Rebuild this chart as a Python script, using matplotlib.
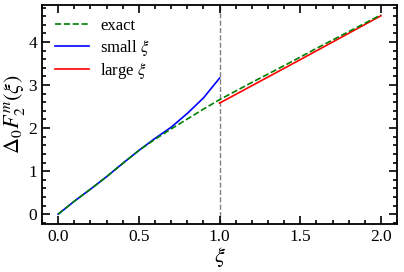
import numpy as np
import matplotlib
matplotlib.use("Agg")
import matplotlib.pyplot as plt
from matplotlib.ticker import MultipleLocator

plt.rcParams["font.family"] = ["Liberation Serif", "DejaVu Serif"]
plt.rcParams["mathtext.fontset"] = "stix"

# exact curve
xi_exact = [0.0, 0.1, 0.2, 0.3, 0.4, 0.5, 0.6, 0.7, 0.8, 0.9, 1.0,
            1.2, 1.4, 1.6, 1.8, 2.0]
F_exact = [0.0, 0.30, 0.58, 0.87, 1.18, 1.48, 1.74, 1.98, 2.21, 2.44, 2.66,
           3.06, 3.45, 3.85, 4.24, 4.63]

# small xi expansion
xi_small = [0.0, 0.1, 0.2, 0.3, 0.4, 0.5, 0.6, 0.7, 0.8, 0.9, 1.0]
F_small = [0.0, 0.30, 0.58, 0.87, 1.18, 1.48, 1.76, 2.02, 2.34, 2.70, 3.16]

# large xi expansion
xi_large = [1.0, 1.5, 2.0]
F_large = [2.58, 3.59, 4.61]

fig = plt.figure(figsize=(4.04, 2.72), dpi=100)
ax = fig.add_axes([0.104, 0.176, 0.879, 0.806])

ax.plot(xi_exact, F_exact, "--", color="green", lw=1.2, label="exact", zorder=3)
ax.plot(xi_small, F_small, "-", color="blue", lw=1.2, label=r"small $\xi$", zorder=2)
ax.plot(xi_large, F_large, "-", color="red", lw=1.2, label=r"large $\xi$", zorder=2)
ax.axvline(1.0, color="grey", ls="--", lw=1.0, zorder=1)

ax.set_xlabel(r"$\xi$", fontsize=16, labelpad=0)
ax.set_ylabel(r"$\Delta_0 F_2^m(\xi)$", fontsize=16, labelpad=1)

ax.xaxis.set_major_locator(MultipleLocator(0.5))
ax.xaxis.set_minor_locator(MultipleLocator(0.1))
ax.yaxis.set_major_locator(MultipleLocator(1))
ax.yaxis.set_minor_locator(MultipleLocator(0.2))
ax.tick_params(which="both", direction="in", top=True, right=True, width=1.2, labelsize=12.5)
ax.tick_params(which="major", length=6)
ax.tick_params(which="minor", length=3)
for s in ax.spines.values():
    s.set_linewidth(1.3)

ax.legend(loc="upper left", frameon=False, fontsize=12, handlelength=2.0,
          handletextpad=0.7, borderaxespad=0.4, labelspacing=0.2)

fig.savefig("out.png", dpi=100)
